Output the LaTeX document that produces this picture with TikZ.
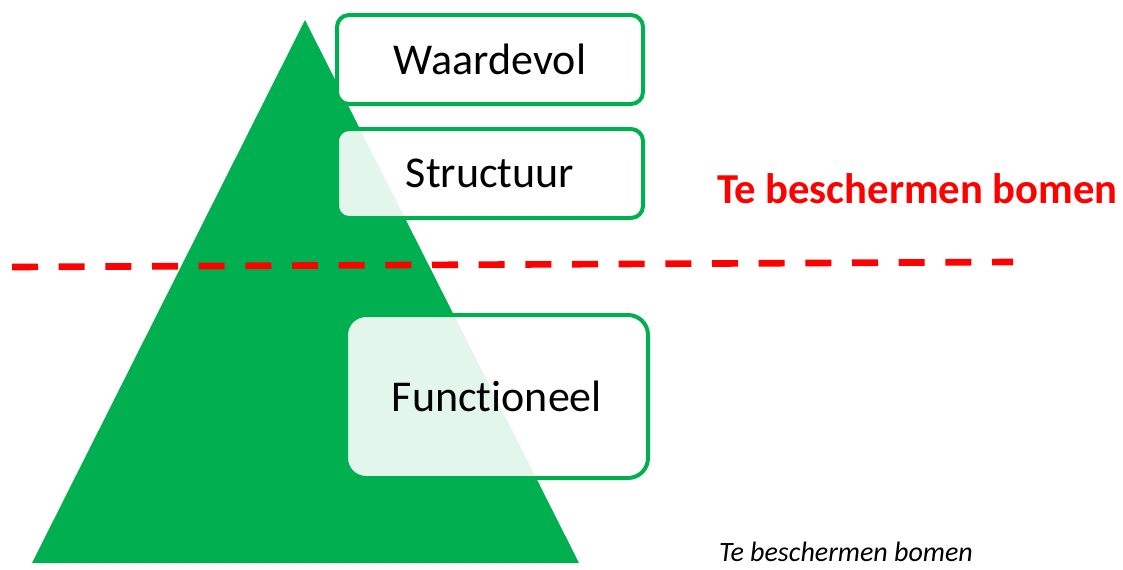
\documentclass[tikz,border=0pt]{standalone}
\usepackage{fontspec}
\setmainfont{Carlito}[Ligatures=NoCommon]
\definecolor{treegreen}{HTML}{00B050}
\tikzset{
    levelbox/.style={draw=treegreen, line width=3pt, fill=white, inner sep=0pt,
        font=\fontsize{33}{40}\selectfont},
    seethrough/.style={levelbox, fill opacity=0.89, draw opacity=1, text opacity=1},
}
\begin{document}
\begin{tikzpicture}[x=0.75pt,y=-0.75pt]
    \useasboundingbox (0,0) rectangle (1123,569);

    % pyramid
    \fill[treegreen] (305,20) -- (579,563) -- (32,563) -- cycle;

    % boundary
    \coordinate (LineStart) at (12,267);
    \coordinate (LineEnd) at (1013,262);
    \draw[red, line width=5pt, dash pattern=on 19.5pt off 15.5pt] (LineStart) -- (LineEnd);

    \node[levelbox, rounded corners=9pt, minimum width=229.5pt, minimum height=66.75pt] (Waardevol) at (490,59.5) {Waardevol};
    \node[seethrough, rounded corners=9pt, minimum width=229.5pt, minimum height=66.75pt] (Structuur) at (490,173.5) {Structuur};
    \node[seethrough, rounded corners=15pt, minimum width=226.5pt, minimum height=122.25pt] (Functioneel) at (497,396.5) {Functioneel};

    \node[anchor=base, text=red, font=\bfseries\fontsize{32}{38}\selectfont] (Protected) at (917.5,203) {Te beschermen bomen};
    \node[anchor=base, inner sep=0pt, font=\itshape\fontsize{21}{25}\selectfont] (Caption) at (846,561) {Te beschermen bomen};
\end{tikzpicture}
\end{document}
